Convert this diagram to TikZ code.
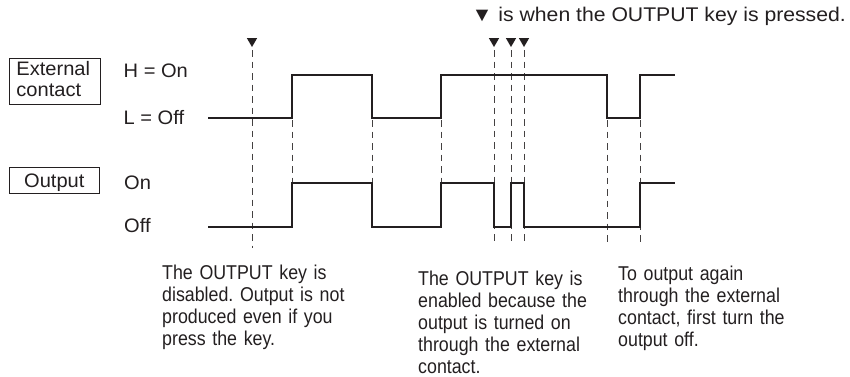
\documentclass[tikz,border=0pt]{standalone}
\usepackage{fontspec}
\setmainfont{Liberation Sans}
\newfontfamily\labfont{Liberation Sans}[FakeStretch=1.03]
\newfontfamily\titlefont{Liberation Sans}[FakeStretch=1.07]
\newfontfamily\notefont{Liberation Sans}[FakeStretch=0.89]
\definecolor{ink}{RGB}{35,31,32}
\frenchspacing
\begin{document}
\begin{tikzpicture}[x=1pt,y=-1pt,
  wave/.style={draw=ink, line width=2.3pt, line join=miter, line cap=butt},
  guide/.style={draw=ink!85, line width=1pt, dash pattern=on 6.5pt off 5pt},
  tag/.style={draw=ink, line width=0.9pt, inner sep=0pt},
  level/.style={anchor=base west, inner sep=0pt, text=ink, font=\labfont\fontsize{19.5}{21}\selectfont},
  note/.style={anchor=base west, inner sep=0pt, text=ink, align=left, text width=205pt, font=\notefont\fontsize{20}{22}\selectfont},
  keymark/.pic={\fill[ink] (-5.2,0) -- (5.2,0) -- (0,9) -- cycle;}
]
\useasboundingbox (0,0) rectangle (850,376);

% title
\node[anchor=base east, inner sep=0pt, text=ink, font=\titlefont\fontsize{19.8}{22}\selectfont] (title) at (846,21.7) {▼ is when the OUTPUT key is pressed.};

% boxes on the left
\node[tag, minimum width=91pt, minimum height=46pt] (extbox) at (54.5,81) {};
\node[level, text width=82pt, align=left] (exttxt) at (16.2,75.7) {External\\contact};
\node[tag, minimum width=90pt, text height=20pt, text depth=6pt, anchor=base, font=\labfont\fontsize{19.5}{21}\selectfont, text=ink] (outbox) at (54.3,187.3) {Output};

% level labels
\node[level] (hon) at (123.5,77.3) {H = On};
\node[level] (loff) at (123.5,124) {L = Off};
\node[level] (on) at (124,189.3) {On};
\node[level] (off) at (124,232) {Off};

% key press markers
\pic at (252,38) {keymark};
\pic at (494,38) {keymark};
\pic at (511,38) {keymark};
\pic at (524,38) {keymark};

% guide coordinates
\coordinate (g1t) at (252,50);  \coordinate (g1b) at (252,248);
\coordinate (g2t) at (292,120); \coordinate (g2b) at (292,183);
\coordinate (g3t) at (372,120); \coordinate (g3b) at (372,183);
\coordinate (g4t) at (441,120); \coordinate (g4b) at (441,183);
\coordinate (g5t) at (494,50);  \coordinate (g5b) at (494,242);
\coordinate (g6t) at (511,50);  \coordinate (g6b) at (511,242);
\coordinate (g7t) at (524,50);  \coordinate (g7b) at (524,242);
\coordinate (g8t) at (607,120); \coordinate (g8b) at (607,242);
\coordinate (g9t) at (640,120); \coordinate (g9b) at (640,242);

\foreach \i in {1,...,9} {\draw[guide] (g\i t) -- (g\i b);}

% external contact waveform
\draw[wave] (208,118) -- (292,118) -- (292,75) -- (372,75) -- (372,118) -- (441,118)
  -- (441,75) -- (607,75) -- (607,118) -- (640,118) -- (640,75) -- (675,75);

% output waveform
\draw[wave] (208,227) -- (292,227) -- (292,183) -- (372,183) -- (372,227) -- (441,227)
  -- (441,183) -- (494,183) -- (494,227) -- (511,227) -- (511,183) -- (524,183)
  -- (524,227) -- (640,227) -- (640,183) -- (675,183);

% notes
\node[note] (n1) at (162,279) {The OUTPUT key is\\disabled. Output is not\\produced even if you\\press the key.};
\node[note] (n2) at (418,285) {The OUTPUT key is\\enabled because the\\output is turned on\\through the external\\contact.};
\node[note] (n3) at (618,280.5) {To output again\\through the external\\contact, first turn the\\output off.};
\end{tikzpicture}
\end{document}
